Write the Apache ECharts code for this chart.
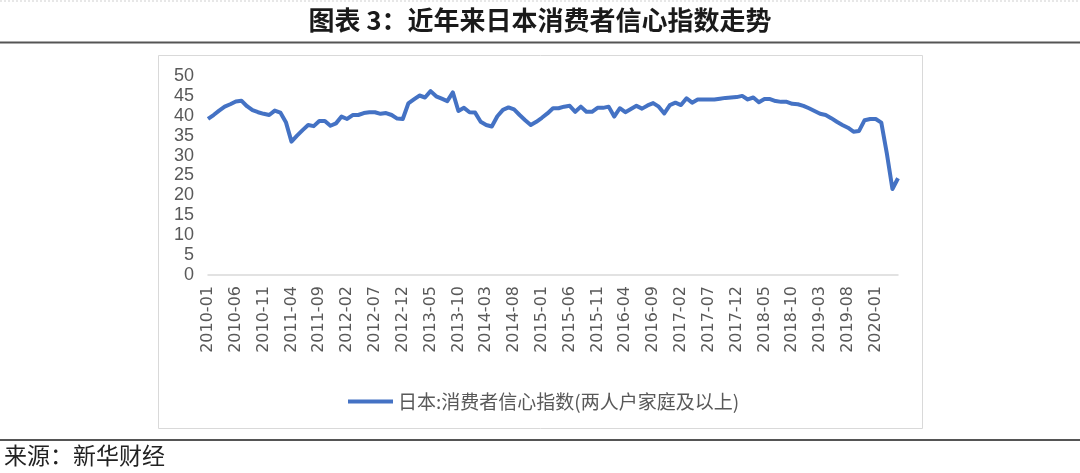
<!DOCTYPE html>
<html>
<head>
<meta charset="utf-8">
<script src="https://cdn.jsdelivr.net/npm/echarts@6/dist/echarts.min.js"></script>
<style>
html,body{margin:0;padding:0;background:#fff;}
#c{width:1080px;height:473px;}
</style>
</head>
<body>
<div id="c"></div>
<script>
var titleText = '图表 3：近年来日本消费者信心指数走势';
var sourceText = '来源：新华财经';
var seriesName = '日本:消费者信心指数(两人户家庭及以上)';
var startYear = 2010, startMonth = 1, monthCount = 125;
var values = [
  39.2, 40.2, 41.3, 42.3, 42.9, 43.6, 43.8, 42.4, 41.4, 40.9, 40.5, 40.2,
  41.3, 40.8, 38.4, 33.5, 35.0, 36.4, 37.7, 37.4, 38.7, 38.7, 37.5, 38.1,
  39.8, 39.2, 40.2, 40.2, 40.7, 40.9, 40.9, 40.5, 40.7, 40.2, 39.3, 39.2,
  43.1, 44.1, 45.1, 44.6, 46.2, 44.9, 44.3, 43.7, 45.9, 41.2, 42.0, 40.9,
  40.8, 38.5, 37.7, 37.3, 39.9, 41.5, 42.1, 41.6, 40.2, 38.9, 37.7, 38.5,
  39.5, 40.6, 41.9, 41.9, 42.3, 42.5, 41.0, 42.3, 41.0, 41.0, 42.0, 42.0,
  42.3, 39.8, 41.9, 40.9, 41.7, 42.5, 41.8, 42.6, 43.2, 42.3, 40.6, 42.7,
  43.3, 42.7, 44.4, 43.3, 44.1, 44.1, 44.1, 44.1, 44.3, 44.5, 44.6, 44.7,
  45.0, 44.1, 44.6, 43.4, 44.2, 44.2, 43.7, 43.5, 43.5, 43.0, 42.9, 42.5,
  41.9, 41.2, 40.5, 40.2, 39.4, 38.5, 37.7, 37.0, 36.0, 36.2, 38.9, 39.2,
  39.2, 38.3, 30.5, 21.6, 24.3
];
var categories = [];
for (var i = 0; i < monthCount; i++) {
  var m = startMonth - 1 + i;
  var y = startYear + Math.floor(m / 12);
  var mm = (m % 12) + 1;
  categories.push(y + '-' + (mm < 10 ? '0' + mm : '' + mm));
}
var yMin = 0, yMax = 50, yStep = 5;

var chart = echarts.init(document.getElementById('c'));
var font = '"Noto Sans CJK SC", "Noto Sans", sans-serif';
var numFont = '"Liberation Sans", Arial, sans-serif';
chart.setOption({
  backgroundColor: '#ffffff',
  animation: false,
  textStyle: {fontFamily: font},
  title: {
    text: titleText,
    left: 'center',
    top: 2,
    textStyle: {fontSize: 26, fontWeight: 'bold', color: '#1a1a1a', fontFamily: font}
  },
  graphic: [
    {type: 'line', shape: {x1: 0, y1: 1, x2: 1080, y2: 1}, style: {stroke: '#cfcfcf', lineWidth: 1, lineDash: [2, 2]}},
    {type: 'line', shape: {x1: 0, y1: 42.5, x2: 1080, y2: 42.5}, style: {stroke: '#555', lineWidth: 2}},
    {type: 'rect', shape: {x: 158.5, y: 55.5, width: 764, height: 373}, style: {fill: 'none', stroke: '#d9d9d9', lineWidth: 1}},
    {type: 'line', shape: {x1: 0, y1: 440, x2: 1080, y2: 440}, style: {stroke: '#555', lineWidth: 2}},
    {type: 'text', left: 4, top: 444, style: {text: sourceText, fontSize: 23, fill: '#222', fontFamily: font}}
  ],
  legend: {
    data: [seriesName],
    left: 343,
    top: 387,
    itemWidth: 45,
    itemHeight: 4,
    itemGap: 6,
    icon: 'rect',
    textStyle: {fontSize: 19, color: '#595959', fontFamily: font}
  },
  grid: {left: 208, right: 182, top: 76, bottom: 198, containLabel: false},
  xAxis: {
    type: 'category',
    data: categories,
    boundaryGap: false,
    axisLine: {show: true, lineStyle: {color: '#d9d9d9', width: 1.5}},
    axisTick: {show: false},
    axisLabel: {
      interval: 4,
      rotate: 90,
      margin: 11,
      fontSize: 16,
      color: '#595959',
      fontFamily: '"DejaVu Sans", sans-serif'
    },
    splitLine: {show: false}
  },
  yAxis: {
    type: 'value',
    min: yMin,
    max: yMax,
    interval: yStep,
    axisLine: {show: false},
    axisTick: {show: false},
    splitLine: {show: false},
    axisLabel: {fontSize: 18, color: '#595959', margin: 14, fontFamily: numFont}
  },
  series: [{
    name: seriesName,
    type: 'line',
    data: values,
    showSymbol: false,
    symbol: 'none',
    lineStyle: {color: '#4472C4', width: 4, join: 'round'},
    itemStyle: {color: '#4472C4'}
  }]
});
</script>
</body>
</html>
